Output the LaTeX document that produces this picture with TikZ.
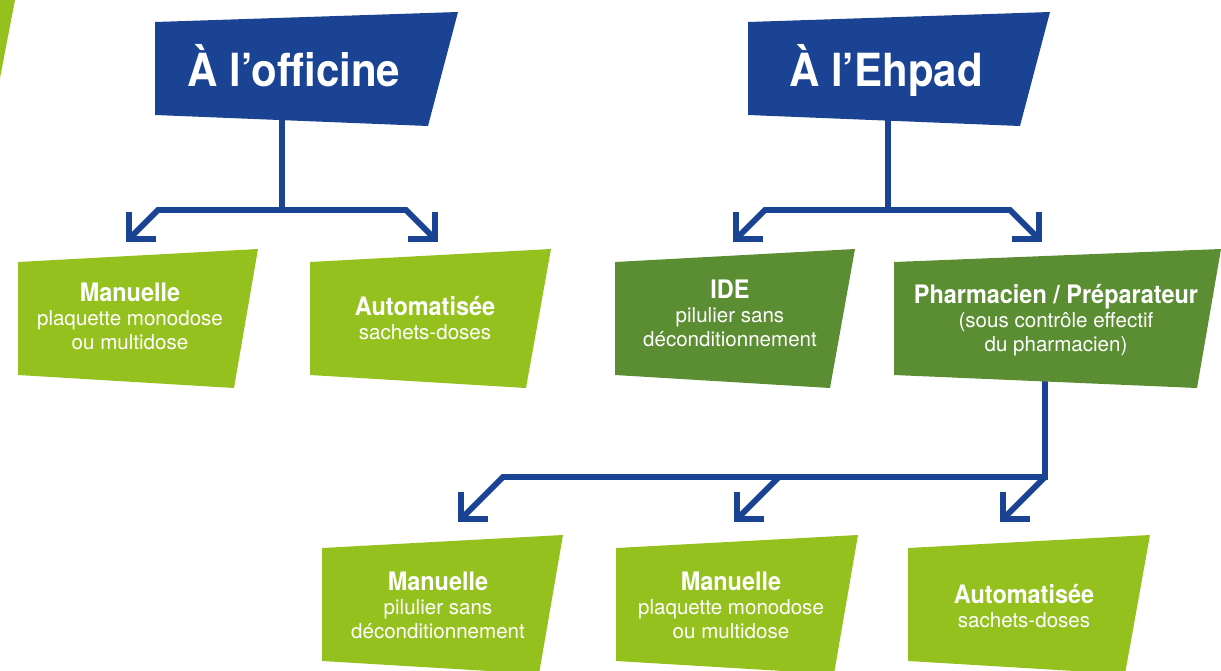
\documentclass[tikz,border=0pt]{standalone}
\usepackage{fontspec}
\setmainfont{TeX Gyre Heros}
\newfontfamily\condfont{TeX Gyre Heros}[FakeStretch=0.92]
\usetikzlibrary{arrows.meta,backgrounds}
\definecolor{ehblue}{RGB}{27,67,148}
\definecolor{lightgreen}{RGB}{149,193,31}
\definecolor{darkgreen}{RGB}{91,142,51}
\def\boxhead#1{{\condfont\bfseries\fontsize{14.5}{13.6}\selectfont #1}}

\begin{document}
\begin{tikzpicture}[x=0.02cm, y=-0.02cm,
		headtext/.style={text=white, anchor=base, inner sep=0pt, font=\condfont\bfseries\fontsize{26}{30}\selectfont},
		boxtext/.style={text=white, align=center, inner sep=0pt, font=\fontsize{11.7}{13.6}\selectfont},
		link/.style={draw=ehblue, line width=3.3pt, line join=miter},
		arrowend/.style={-{Straight Barb[length=11pt, width=22pt]}},
		twoends/.style={{Straight Barb[length=11pt, width=22pt]}-{Straight Barb[length=11pt, width=22pt]}}]
			%%%%% START %%%%%
			
			\useasboundingbox (0, 0) rectangle (1221, 670);
			\clip (0, 0) rectangle (1221, 670);
			
			\fill[lightgreen] (0, 0) -- (15, 0) -- (0, 78) -- cycle;
			
			% headers
			\fill[ehblue] (155, 22) -- (458, 12) -- (428, 126) -- (155, 115) -- cycle;
			\node[headtext] (officine) at (294, 86) {À l’officine};
			
			\fill[ehblue] (748, 22) -- (1050, 12) -- (1020, 126) -- (748, 115) -- cycle;
			\node[headtext] (ehpad) at (886, 86) {À l’Ehpad};
			
			% first row
			\fill[lightgreen] (18, 262) -- (258, 249) -- (234, 388) -- (18, 375) -- cycle;
			\node[boxtext] (manuelleA) at (130, 316) {\boxhead{Manuelle}\\plaquette monodose\\ou multidose};
			
			\fill[lightgreen] (310, 262) -- (551, 249) -- (526, 388) -- (310, 375) -- cycle;
			\node[boxtext] (autoA) at (425, 318) {\boxhead{Automatisée}\\sachets-doses};
			
			\fill[darkgreen] (615, 262) -- (855, 249) -- (830, 388) -- (615, 375) -- cycle;
			\node[boxtext] (ide) at (730, 313) {\boxhead{IDE}\\pilulier sans\\déconditionnement};
			
			\fill[darkgreen] (894, 262) -- (1221, 249) -- (1197, 388) -- (894, 375) -- cycle;
			\node[boxtext] (pharma) at (1056, 320) {\boxhead{Pharmacien / Préparateur}\\(sous contrôle effectif\\du pharmacien)};
			
			% second row
			\fill[lightgreen] (322, 548) -- (563, 535) -- (539, 674) -- (322, 661) -- cycle;
			\node[boxtext] (manuelleB) at (438, 605) {\boxhead{Manuelle}\\pilulier sans\\déconditionnement};
			
			\fill[lightgreen] (616, 548) -- (858, 535) -- (834, 674) -- (616, 661) -- cycle;
			\node[boxtext] (manuelleC) at (731, 605) {\boxhead{Manuelle}\\plaquette monodose\\ou multidose};
			
			\fill[lightgreen] (908, 548) -- (1150, 535) -- (1125, 674) -- (908, 661) -- cycle;
			\node[boxtext] (autoB) at (1024, 606) {\boxhead{Automatisée}\\sachets-doses};
			
			% connectors
			\coordinate (fork1) at (282, 210);
			\coordinate (fork1l) at (158, 210);
			\coordinate (fork1r) at (406, 210);
			\coordinate (tip1) at (126, 242);
			\coordinate (tip2) at (438, 242);
			
			\coordinate (fork2) at (888, 210);
			\coordinate (fork2l) at (765, 210);
			\coordinate (fork2r) at (1010, 210);
			\coordinate (tip3) at (733, 242);
			\coordinate (tip4) at (1042, 242);
			
			\coordinate (fork3) at (1045, 477);
			\coordinate (fork3l) at (503, 477);
			\coordinate (fork3m) at (779, 477);
			\coordinate (tip5) at (458, 522);
			\coordinate (tip6) at (734, 522);
			\coordinate (tip7) at (1000, 522);
			
			\begin{scope}[on background layer]
				\draw[link] (officine.south -| fork1) -- (fork1);
				\draw[link, twoends] (tip1) -- (fork1l) -- (fork1r) -- (tip2);
				
				\draw[link] (ehpad.south -| fork2) -- (fork2);
				\draw[link, twoends] (tip3) -- (fork2l) -- (fork2r) -- (tip4);
				
				\draw[link, arrowend] (pharma.south -| fork3) -- (fork3) -- (fork3l) -- (tip5);
				\draw[link, arrowend] (fork3m) -- (tip6);
				\draw[link, arrowend] (fork3) -- (tip7);
			\end{scope}
			
			%%%%% END %%%%%
\end{tikzpicture}
\end{document}
